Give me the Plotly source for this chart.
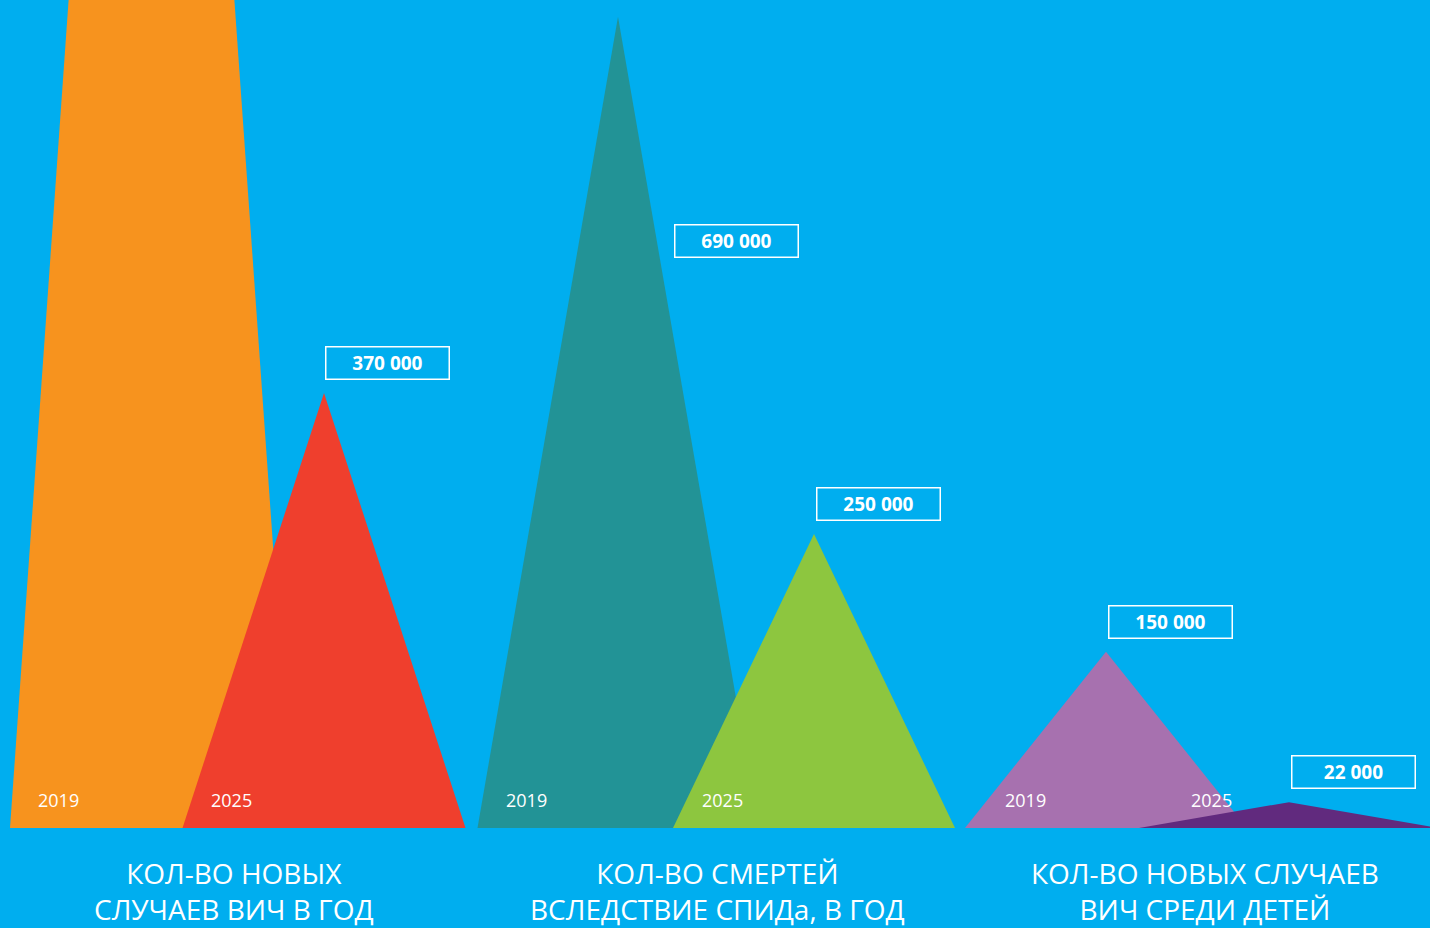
import plotly.graph_objects as go

# ---- data ----
groups = ["КОЛ-ВО НОВЫХ<br>СЛУЧАЕВ ВИЧ В ГОД",
          "КОЛ-ВО СМЕРТЕЙ<br>ВСЛЕДСТВИЕ СПИДа, В ГОД",
          "КОЛ-ВО НОВЫХ СЛУЧАЕВ<br>ВИЧ СРЕДИ ДЕТЕЙ"]
years = ["2019", "2025"]
values_2019 = [1700000, 690000, 150000]
values_2025 = [370000, 250000, 22000]
labels_2019 = [None, "690 000", "150 000"]
labels_2025 = ["370 000", "250 000", "22 000"]

# ---- styling / layout (positions in screen-like x units) ----
BG = "#00AEEF"
colors_2019 = ["#F7931E", "#229396", "#A771AF"]
colors_2025 = ["#EF3F2D", "#8DC63F", "#612A7E"]
apex_2019 = [151.5, 618, 1106]
apex_2025 = [324, 814, 1289]
half_2019 = [141.5, 140.5, 141]
half_2025 = [141.5, 141, 150]
year_x_2019 = [36, 504, 1003]
year_x_2025 = [209, 700, 1189]
group_center = [233.5, 717.5, 1205]
# label box offsets (dx, dy in px) relative to apex
lab_off_2019 = [None, (56, -241), (2, 13)]
lab_off_2025 = [(1, 13), (2, 13), (2, 13)]

W, H = 1430, 928
BASE_PX = 828
k = 435 / 370000  # px per unit
y_top = BASE_PX / k
y_bot = -(H - BASE_PX) / k

fig = go.Figure()
annotations = []

def add_tri(cx, hw, val, color):
    fig.add_trace(go.Scatter(
        x=[cx - hw, cx, cx + hw, cx - hw], y=[0, val, 0, 0],
        mode="lines", fill="toself", fillcolor=color,
        line=dict(width=0, color=color), hoverinfo="skip", showlegend=False))

for i in range(3):
    add_tri(apex_2019[i], half_2019[i], values_2019[i], colors_2019[i])
    add_tri(apex_2025[i], half_2025[i], values_2025[i], colors_2025[i])

font_main = "Open Sans, Noto Sans, sans-serif"

for i in range(3):
    for yx, yr in ((year_x_2019[i], years[0]), (year_x_2025[i], years[1])):
        annotations.append(dict(x=yx, y=0, xref="x", yref="y", text=yr,
                                showarrow=False, xanchor="left", yanchor="middle",
                                yshift=28, font=dict(color="white", size=18, family=font_main)))
    for lab, val, ax, off in ((labels_2019[i], values_2019[i], apex_2019[i], lab_off_2019[i]),
                              (labels_2025[i], values_2025[i], apex_2025[i], lab_off_2025[i])):
        if lab is None:
            continue
        annotations.append(dict(x=ax + off[0], y=val, xref="x", yref="y", text=lab,
                                showarrow=False, xanchor="left", yanchor="bottom", yshift=off[1],
                                width=122, height=31, borderpad=0, borderwidth=1.5,
                                bordercolor="white", align="center", valign="middle",
                                font=dict(color="white", size=19, family=font_main, weight=700)))
    annotations.append(dict(x=group_center[i], y=0, xref="x", yref="y", text=groups[i],
                            showarrow=False, xanchor="center", yanchor="top", yshift=-24,
                            align="center",
                            font=dict(color="white", size=28, family=font_main, weight=400)))

fig.update_layout(
    width=W, height=H,
    margin=dict(l=0, r=0, t=0, b=0),
    paper_bgcolor=BG, plot_bgcolor=BG,
    xaxis=dict(range=[0, W], visible=False, fixedrange=True),
    yaxis=dict(range=[y_bot, y_top], visible=False, fixedrange=True),
    annotations=annotations,
    showlegend=False,
)

fig.write_html("out.html", config={"displayModeBar": False},
               post_script="document.body.style.margin='0';document.body.style.background='%s';" % BG)
